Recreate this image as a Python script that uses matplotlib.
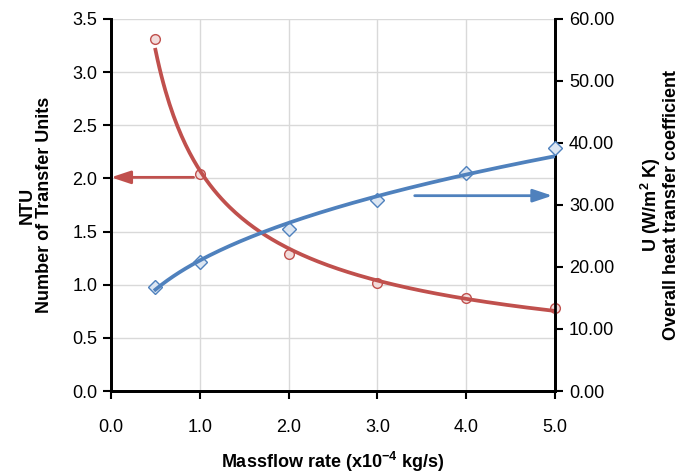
import numpy as np
import matplotlib
matplotlib.use("Agg")
import matplotlib.pyplot as plt
from matplotlib.ticker import FormatStrFormatter, MultipleLocator

plt.rcParams["font.family"] = ["Liberation Sans", "DejaVu Sans"]
plt.rcParams["font.size"] = 13
plt.rcParams["mathtext.fontset"] = "custom"
plt.rcParams["mathtext.rm"] = "Liberation Sans:bold"
plt.rcParams["mathtext.default"] = "rm"

# -- measured values
massflow = [0.5, 1.0, 2.0, 3.0, 4.0, 5.0]          # x10^-4 kg/s
ntu      = [3.31, 2.04, 1.29, 1.02, 0.875, 0.78]
u_coef   = [16.8, 20.8, 26.1, 30.8, 35.2, 39.2]     # W/m2K

RED, RED_FACE = "#C0504D", "#F2DCDB"
BLUE, BLUE_FACE = "#4F81BD", "#DCE6F2"


def power_fit(x, y):
    """least squares fit of y = a * x**b, done in log space"""
    b, loga = np.polyfit(np.log(x), np.log(y), 1)
    return np.exp(loga), b


xs = np.linspace(min(massflow), max(massflow), 200)
a_n, b_n = power_fit(massflow, ntu)
a_u, b_u = power_fit(massflow, u_coef)

fig = plt.figure(figsize=(6.82, 4.74), dpi=100)
ax = fig.add_axes([0.1628, 0.1751, 0.651, 0.7849])
ax2 = ax.twinx()

# -- NTU on the left axis
ax.plot(massflow, ntu, "o", ms=7, mfc=RED_FACE, mec=RED, mew=1.0, zorder=3,
        clip_on=False)
ax.plot(xs, a_n * xs ** b_n, "-", color=RED, lw=2.7, zorder=4)
ax.set_xlim(0, 5)
ax.set_ylim(0, 3.5)
ax.xaxis.set_major_locator(MultipleLocator(1.0))
ax.yaxis.set_major_locator(MultipleLocator(0.5))
ax.xaxis.set_major_formatter(FormatStrFormatter("%.1f"))
ax.yaxis.set_major_formatter(FormatStrFormatter("%.1f"))
ax.grid(True, color="#D9D9D9", lw=1.0)
ax.set_axisbelow(True)

# -- U on the right axis
ax2.plot(massflow, u_coef, "D", ms=7, mfc=BLUE_FACE, mec=BLUE, mew=1.0,
         zorder=3, clip_on=False)
ax2.plot(xs, a_u * xs ** b_u, "-", color=BLUE, lw=2.7, zorder=4)
ax2.set_ylim(0, 60)
ax2.yaxis.set_major_locator(MultipleLocator(10))
ax2.yaxis.set_major_formatter(FormatStrFormatter("%.2f"))

for a in (ax, ax2):
    for side in ("left", "right", "bottom"):
        a.spines[side].set_linewidth(2.0)
        a.spines[side].set_color("black")
    a.spines["top"].set_visible(False)
    a.tick_params(axis="both", which="major", direction="out", length=6,
                  width=1.5, labelsize=13, pad=4)
ax.tick_params(axis="x", pad=14)

# -- arrows showing which curve goes with which axis
ax.annotate("", xy=(0.0, 2.01), xytext=(0.93, 2.01),
            arrowprops=dict(arrowstyle="-|>,head_length=0.9,head_width=0.3",
                            color=RED, lw=2.0, shrinkA=0, shrinkB=0))
ax2.annotate("", xy=(4.97, 31.5), xytext=(3.42, 31.5),
             arrowprops=dict(arrowstyle="-|>,head_length=0.9,head_width=0.3",
                             color=BLUE, lw=2.0, shrinkA=0, shrinkB=0))

ax.set_xlabel("Massflow rate (x10$^{-4}$ kg/s)", fontweight="bold",
              fontsize=13, labelpad=10)
ax.set_ylabel("NTU\nNumber of Transfer Units", fontweight="bold",
              fontsize=13, labelpad=14, linespacing=1.0)
ax2.set_ylabel("U (W/m$^{2}$ K)\nOverall heat transfer coefficient",
               fontweight="bold", fontsize=13, rotation=90, labelpad=18,
               linespacing=1.0)

fig.savefig("out.png", dpi=100)
